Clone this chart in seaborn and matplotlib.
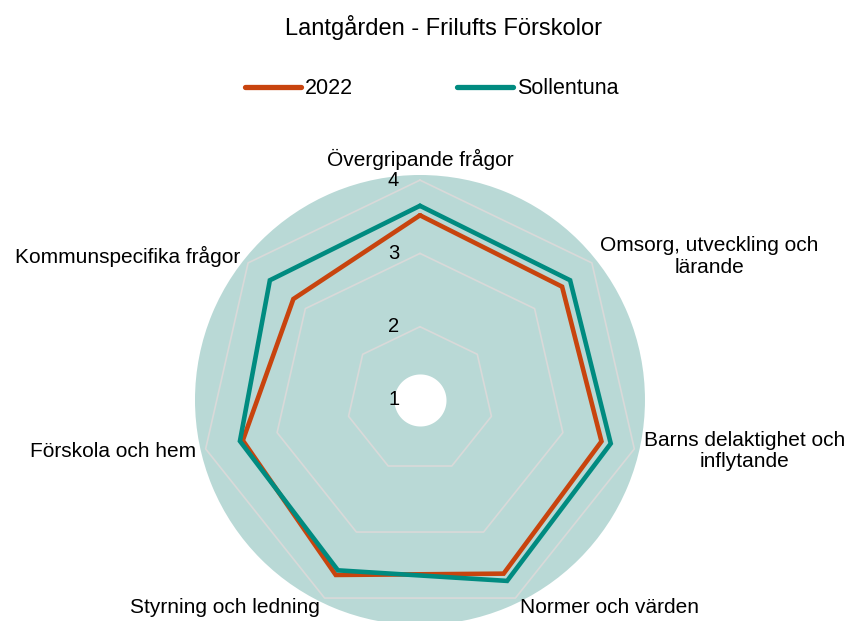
import numpy as np
import pandas as pd
import matplotlib
matplotlib.use('Agg')
import matplotlib.pyplot as plt
import seaborn as sns

# Data
categories = ['Övergripande frågor', 'Omsorg, utveckling och\nlärande',
              'Barns delaktighet och\ninflytande', 'Normer och värden',
              'Styrning och ledning', 'Förskola och hem', 'Kommunspecifika frågor']
values_2022 = [3.52, 3.48, 3.54, 3.63, 3.65, 3.48, 3.21]
values_sollentuna = [3.65, 3.62, 3.67, 3.74, 3.58, 3.52, 3.62]
series_names = ['2022', 'Sollentuna']
r_ticks = [1, 2, 3, 4]

colors = {'2022': '#c8440e', 'Sollentuna': '#008b80'}

sns.set_style('white')
plt.rcParams['font.family'] = ['Liberation Sans', 'DejaVu Sans']
plt.rcParams['text.color'] = 'black'

n = len(categories)
theta = np.linspace(0, 2 * np.pi, n, endpoint=False)

# long table, loops closed
rows = []
for name, vals in zip(series_names, [values_2022, values_sollentuna]):
    for t, v in zip(list(theta) + [2 * np.pi], vals + vals[:1]):
        rows.append({'theta': t, 'value': v, 'series': name})
df = pd.DataFrame(rows)

fig = plt.figure(figsize=(8.5, 6.21), dpi=100)
ax = fig.add_axes([0.2294, -0.0064, 0.5294, 0.7246], projection='polar')
ax.set_theta_offset(np.pi / 2)
ax.set_theta_direction(-1)
ax.set_facecolor('#b9d9d6')
ax.spines['polar'].set_visible(False)
ax.grid(False)
ax.set_xticks([])
ax.set_yticks([])
ax.set_ylim(1, 4.07)

# heptagon grid
closed = np.append(theta, 2 * np.pi)
for r in r_ticks[1:]:
    ax.plot(closed, [r] * (n + 1), color='#d9d9d9', lw=1.2, zorder=1)

# white hole in the middle
full = np.linspace(0, 2 * np.pi, 200)
ax.fill_between(full, 1, 1.355, color='white', zorder=2, lw=0)

sns.lineplot(data=df, x='theta', y='value', hue='series', palette=colors,
             sort=False, estimator=None, linewidth=3.3, legend=False, ax=ax,
             zorder=3)
for line in ax.lines[-2:]:
    line.set_solid_joinstyle('miter')
ax.set_xlabel('')
ax.set_ylabel('')

for r in r_ticks:
    ax.annotate(str(r), xy=(0, r), xytext=(-19, 0), textcoords='offset points',
                ha='center', va='center', fontsize=14.5, zorder=5)

for t, lab in zip(theta, categories):
    ang = np.pi / 2 - t
    c = np.cos(ang)
    if c > 0.1:
        ha, va = 'left', 'center'
    elif c < -0.1:
        ha, va = 'right', 'center'
    else:
        ha, va = 'center', 'bottom'
    ax.text(t, 4.14, lab, ha=ha, va=va, fontsize=15, multialignment='center',
            clip_on=False, linespacing=1.15)

handles = [plt.Line2D([], [], color=colors[s], lw=3.8, solid_capstyle='round')
           for s in series_names]
fig.legend(handles, series_names, loc='center', bbox_to_anchor=(0.508, 1 - 89 / 621),
           ncol=2, frameon=False, fontsize=15.5, handlelength=2.6,
           handletextpad=0.2, columnspacing=4.8)

fig.suptitle('Lantgården - Frilufts Förskolor', x=0.522, y=1 - 27 / 621,
             va='center', fontsize=17)

fig.savefig('out.png', dpi=100)
